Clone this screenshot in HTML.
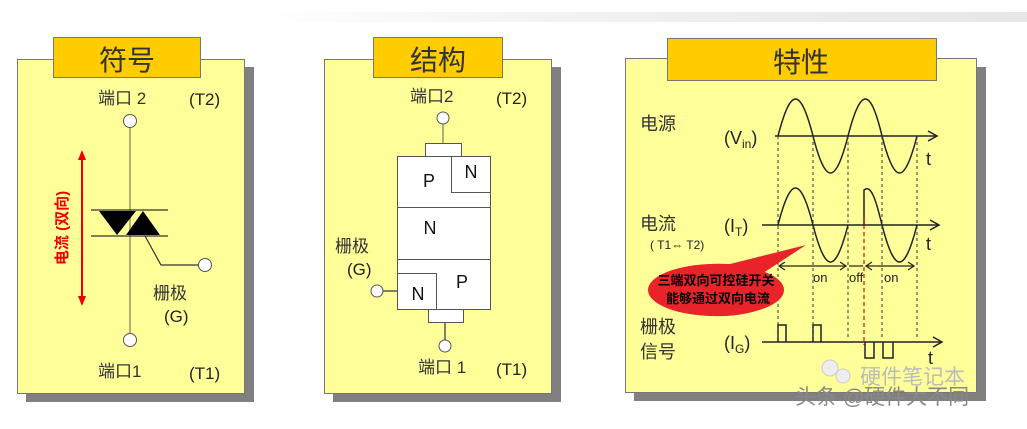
<!DOCTYPE html>
<html><head><meta charset="utf-8"><style>
html,body{margin:0;padding:0;background:#fff;}
svg{display:block;}
text{font-family:"Liberation Sans","Noto Sans CJK SC",sans-serif;}
</style></head><body>
<svg width="1027" height="429" viewBox="0 0 1027 429" xmlns="http://www.w3.org/2000/svg">
<defs><linearGradient id="g" x1="0" x2="1"><stop offset="0" stop-color="#fff"/><stop offset="0.4" stop-color="#f2f2f2"/><stop offset="1" stop-color="#e6e6e6"/></linearGradient></defs>
<rect width="1027" height="429" fill="#fff"/>
<rect x="250" y="12" width="777" height="10" fill="url(#g)"/>
<!-- panel 1 -->
<rect x="26" y="67" width="228" height="335" fill="#808080"/>
<rect x="17.5" y="59.5" width="227" height="334" fill="#ffff99" stroke="#777" stroke-width="1"/>
<rect x="53.5" y="37.5" width="147" height="40" fill="#ffcc00" stroke="#777"/>
<text x="127" y="70" font-size="28" text-anchor="middle" fill="#333">符号</text>
<text x="98" y="104" font-size="17" fill="#333">端口 2</text>
<text x="189" y="105" font-size="17" fill="#222">(T2)</text>
<text x="98" y="377" font-size="17" fill="#333">端口1</text>
<text x="189" y="379" font-size="17" fill="#222">(T1)</text>
<text x="153" y="299" font-size="17" fill="#333">栅极</text>
<text x="164" y="322" font-size="17" fill="#222">(G)</text>
<line x1="130" y1="121" x2="130" y2="340" stroke="#999966" stroke-width="1.5"/>
<line x1="91" y1="210" x2="168" y2="210" stroke="#333" stroke-width="1.2"/>
<line x1="91" y1="236" x2="168" y2="236" stroke="#333" stroke-width="1.2"/>
<polygon points="99,211 136,211 117,235" fill="#000"/>
<polygon points="126,235 160,235 143,211" fill="#000"/>
<polyline points="145,236 161,265 199,265" fill="none" stroke="#333" stroke-width="1.2"/>
<circle cx="130" cy="121" r="6.5" fill="#fff" stroke="#555"/>
<circle cx="130" cy="340" r="6.5" fill="#fff" stroke="#555"/>
<circle cx="205" cy="265" r="6.5" fill="#fff" stroke="#555"/>
<line x1="82" y1="158" x2="82" y2="299" stroke="#e00" stroke-width="2"/>
<polygon points="82,150 78,160 86,160" fill="#e00"/>
<polygon points="82,306 78,296 86,296" fill="#e00"/>
<text transform="translate(67,228) rotate(-90)" font-size="15" font-weight="bold" text-anchor="middle" fill="#e00">电流 (双向)</text>
<!-- panel 2 -->
<rect x="333" y="67" width="228" height="335" fill="#808080"/>
<rect x="324.5" y="59.5" width="227" height="334" fill="#ffff99" stroke="#777"/>
<rect x="373.5" y="37.5" width="129" height="40" fill="#ffcc00" stroke="#777"/>
<text x="438" y="70" font-size="28" text-anchor="middle" fill="#333">结构</text>
<text x="410" y="102" font-size="17" fill="#333">端口2</text>
<text x="496" y="104" font-size="17" fill="#222">(T2)</text>
<text x="418" y="373" font-size="17" fill="#333">端口 1</text>
<text x="496" y="375" font-size="17" fill="#222">(T1)</text>
<text x="335" y="252" font-size="17" fill="#333">栅极</text>
<text x="347" y="275" font-size="17" fill="#222">(G)</text>
<line x1="443" y1="118" x2="443" y2="143" stroke="#999966" stroke-width="1.5"/>
<line x1="445" y1="322" x2="445" y2="346" stroke="#555" stroke-width="1.5"/>
<line x1="377" y1="291" x2="397" y2="291" stroke="#555" stroke-width="1.5"/>
<rect x="425.5" y="143.5" width="36" height="13" fill="#fff" stroke="#555"/>
<rect x="428.5" y="309.5" width="35" height="13" fill="#fff" stroke="#555"/>
<rect x="397.5" y="156.5" width="93" height="153" fill="#fff" stroke="#555"/>
<polyline points="451.5,156.5 451.5,192.5 490.5,192.5" fill="none" stroke="#555"/>
<line x1="397" y1="207.5" x2="491" y2="207.5" stroke="#555"/>
<line x1="397" y1="259.5" x2="491" y2="259.5" stroke="#555"/>
<polyline points="397.5,273.5 436.5,273.5 436.5,309.5" fill="none" stroke="#555"/>
<circle cx="443" cy="118" r="6" fill="#fff" stroke="#555"/>
<circle cx="445" cy="346" r="6" fill="#fff" stroke="#555"/>
<circle cx="377" cy="291" r="6" fill="#fff" stroke="#555"/>
<g font-size="18" fill="#111" text-anchor="middle">
<text x="429" y="187">P</text><text x="471" y="178">N</text>
<text x="430" y="234">N</text><text x="462" y="288">P</text><text x="418" y="300">N</text></g>
<!-- panel 3 -->
<rect x="634" y="67" width="352" height="334" fill="#808080"/>
<rect x="625.5" y="58.5" width="351" height="334" fill="#ffff99" stroke="#777"/>
<rect x="667.5" y="38.5" width="269" height="42" fill="#ffcc00" stroke="#777"/>
<text x="801" y="72" font-size="28" text-anchor="middle" fill="#333">特性</text>
<g font-size="18" fill="#333">
<text x="640" y="130">电源</text><text x="640" y="230">电流</text>
<text x="640" y="333">栅极</text><text x="640" y="358">信号</text></g>
<text x="650" y="249" font-size="12" fill="#222">( T1⇔ T2)</text>
<g font-size="18" fill="#222">
<text x="724" y="144">(V<tspan font-size="12" dy="4">in</tspan><tspan dy="-4">)</tspan></text>
<text x="724" y="232">(I<tspan font-size="12" dy="4">T</tspan><tspan dy="-4">)</tspan></text>
<text x="724" y="349">(I<tspan font-size="12" dy="4">G</tspan><tspan dy="-4">)</tspan></text>
<text x="926" y="165">t</text><text x="926" y="250">t</text><text x="928" y="364">t</text></g>
<g stroke="#222" stroke-width="1.5" fill="none">
<line x1="775" y1="136" x2="936" y2="136"/><polyline points="928,131 937,136 928,141"/>
<line x1="762" y1="225" x2="938" y2="225"/><polyline points="930,220 939,225 930,230"/>
<line x1="762" y1="342" x2="941" y2="342"/><polyline points="933,337 942,342 933,347"/>
<path d="M778,136 C790.7,86.7 800.3,86.7 813,136 C825.7,185.3 835.3,185.3 848,136 C860.7,86.7 870.3,86.7 882,136 C894.7,185.3 904.3,185.3 917,136"/>
<path d="M778,225 C790.7,175.7 800.3,175.7 813,225 C825.7,274.3 835.3,274.3 848,225"/>
<path d="M864,225 L864,190 C871,184 876,200 882,225 C894.7,274.3 904.3,274.3 917,225"/>
<polyline points="778,342 778,325 786,325 786,342"/>
<polyline points="813,342 813,325 821,325 821,342"/>
<polyline points="865,342 865,358 874,358 874,342"/>
<polyline points="883,342 883,358 893,358 893,342"/>
</g>
<g stroke="#333" stroke-width="1" stroke-dasharray="3,3">
<line x1="778" y1="136" x2="778" y2="340"/><line x1="813" y1="136" x2="813" y2="340"/>
<line x1="848" y1="136" x2="848" y2="340"/><line x1="882" y1="136" x2="882" y2="340"/>
<line x1="917" y1="136" x2="917" y2="340"/></g>
<line x1="864" y1="218" x2="864" y2="345" stroke="#e00" stroke-width="1.2" stroke-dasharray="4,3"/>
<g stroke="#222" stroke-width="1.2" fill="none">
<line x1="779" y1="266" x2="846" y2="266"/><polyline points="785,262 779,266 785,270"/><polyline points="840,262 846,266 840,270"/>
<line x1="849" y1="266" x2="863" y2="266"/>
<line x1="866" y1="266" x2="914" y2="266"/><polyline points="872,262 866,266 872,270"/><polyline points="908,262 914,266 908,270"/>
</g>
<g font-size="13" fill="#222"><text x="813" y="282">on</text><text x="849" y="282">off</text><text x="884" y="282">on</text></g>
<path d="M806,245 L760,275 C790,300 760,318 712,316 C664,314 648,300 650,288 C652,272 690,262 730,264 Z" fill="#e8242a"/>
<ellipse cx="716" cy="290" rx="68" ry="26" fill="#e8242a"/>
<g font-size="13" font-weight="bold" fill="#000" text-anchor="middle">
<text x="716" y="285">三端双向可控硅开关</text><text x="718" y="303">能够通过双向电流</text></g>
<text x="860" y="384" font-size="21" fill="#bbb">硬件笔记本</text>
<text x="795" y="404" font-size="21" fill="#888">头条 @硬件大不同</text>
<circle cx="830" cy="368" r="8" fill="#eee" stroke="#ccc"/><circle cx="843" cy="376" r="7" fill="#eee" stroke="#ccc"/>
</svg>
</body></html>
